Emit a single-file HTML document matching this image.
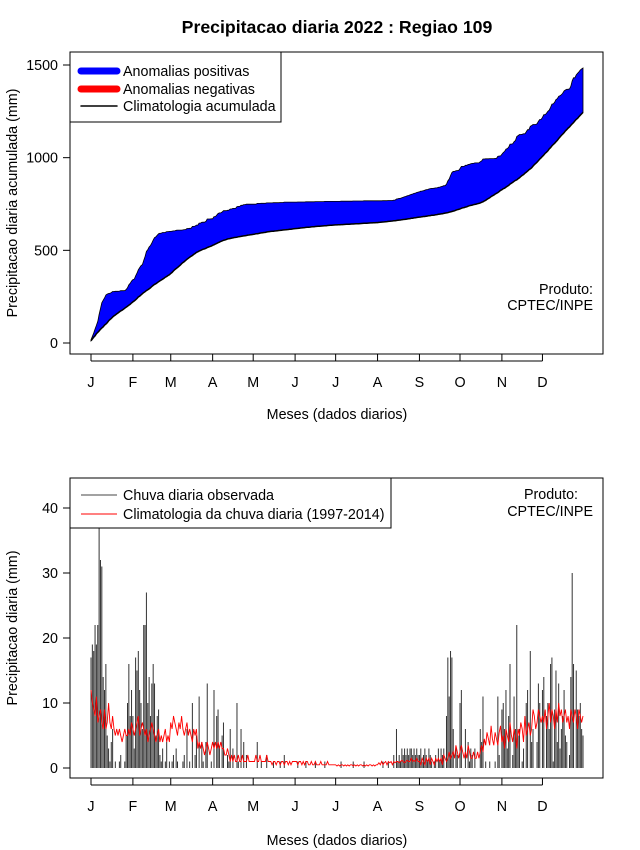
<!DOCTYPE html>
<html><head><meta charset="utf-8">
<style>
body{margin:0;background:#fff;}
svg{display:block;font-family:"Liberation Sans",sans-serif;}
</style></head>
<body>
<svg id="chart" width="640" height="850" viewBox="0 0 640 850"></svg>
<script>
const months = ["J","F","M","A","M","J","J","A","S","O","N","D"];
const monthStartDay = [1,32,60,91,121,152,182,213,244,274,305,335];
const topTicks = [0,500,1000,1500];
const botTicks = [0,10,20,30,40];
const obsDaily = [
17,19,18,22,19,22,37,32,31,14,12,16,5,3,1,4,6,0,1,0,0,1,2,0,0,1,5,10,16,8,12,
8,3,17,15,18,12,10,6,22,22,27,10,14,8,13,16,13,5,8,9,2,1,3,0,1,4,0,1,
0,1,2,0,3,1,0,0,0,1,2,0,6,0,1,0,10,0,2,5,0,11,0,4,1,0,4,13,0,0,1,
0,12,0,8,9,3,0,5,7,0,0,2,1,6,0,3,0,0,10,1,0,6,0,4,0,2,0,0,0,0,
0,0,0,4,0,0,1,0,0,0,2,0,0,0,0,1,0,0,0,0,1,0,0,2,0,0,0,0,0,0,0,
0,0,1,0,0,0,0,0,1,0,0,0,0,0,0,1,0,0,0,0,0,0,1,0,0,0,0,0,0,0,
0,0,0,0,1,0,0,0,0,0,0,0,0,1,0,0,0,0,0,0,0,1,0,0,0,0,0,0,0,0,0,
0,0,0,0,1,0,0,0,1,0,0,0,2,0,6,1,2,1,3,2,3,2,3,2,3,3,2,3,2,3,2,
2,3,1,2,3,2,1,3,2,1,0,1,2,0,3,1,3,2,3,0,8,17,11,18,17,6,0,3,2,0,
10,12,0,0,6,0,4,1,3,2,0,3,0,0,0,6,4,11,0,1,0,0,1,0,0,0,1,0,11,2,0,
9,10,6,12,3,8,16,0,2,11,6,22,5,6,0,1,3,0,10,12,0,18,4,6,0,0,4,13,10,0,
12,14,0,8,10,6,16,17,1,9,15,4,13,3,6,8,12,5,4,0,2,14,30,16,0,15,9,8,10,6,5];
const climDaily = [
12,10,9,8,11,7,8,9,7,6,9,6,7,10,7,6,8,6,5,6,5,6,5,4,5,6,5,5,6,5,7,
6,5,6,7,8,5,6,7,6,5,6,4,5,6,7,6,5,4,5,6,4,5,4,5,6,4,5,4,
7,6,8,7,6,5,7,6,8,6,5,6,7,5,6,5,4,6,5,6,3,4,3,4,3,2,3,4,3,2,3,
4,3,4,3,4,3,4,3,3,2,2,3,2,1,2,1,2,1,1,2,1,1,2,1,1,1,2,1,1,1,
1,1,2,1,1,2,1,1,1,1,2,1,1,1,0.5,1,1,0.5,1,1,0.5,1,1,0.5,1,1,0.5,1,0.5,1,1,
1,1,0.5,1,1,0.5,1,0.5,1,1,0.5,0.5,1,0.5,0.5,1,0.5,0.5,0.5,1,0.5,0.5,0.5,0.5,1,0.5,0.5,0.5,0.5,0.5,
0.5,0.3,0.5,0.3,0.5,0.5,0.3,0.5,0.3,0.5,0.3,0.5,0.5,0.3,0.5,0.3,0.5,0.3,0.5,0.5,0.3,0.5,0.3,0.5,0.3,0.5,0.5,0.3,0.5,0.3,0.5,
0.5,0.8,0.5,1,0.5,0.8,1,0.5,1,0.8,1,0.5,1,0.8,1,1,0.8,1,1.2,1,0.8,1,1.2,1,1,1.5,1,1.2,1,1.5,1,
1,0.5,1.5,1,0.5,1.5,1,1.5,0.5,1.5,1,0.5,1.5,1,1.5,1,1.5,0.5,2,1.5,1,1.5,2.5,1.5,2,2.5,1.5,3.5,2.5,1.5,
2.5,3.5,2.5,1.5,2.5,1.5,3.5,2.5,1.5,1.5,2.5,1.5,1.5,2.5,1.5,2.5,3.5,2.5,4.5,3.5,5.5,4.5,3.5,6.5,4.5,3.5,5.5,4.5,3.5,5.5,6.5,
4,5,3,6,5,4,7,5,4,6,5,3,6,5,7,6,4,8,5,6,7,5,6,9,8,6,7,9,8,7,
8,7,9,6,8,10,7,9,8,6,9,7,10,8,9,7,8,9,7,8,6,9,8,7,9,8,6,9,8,7,8];

const NS="http://www.w3.org/2000/svg";
const svg=document.getElementById('chart');
function mk(tag,attrs,parent,text){const e=document.createElementNS(NS,tag);for(const k in attrs)e.setAttribute(k,attrs[k]);if(text!==undefined)e.textContent=text;(parent||svg).appendChild(e);return e;}
const xDay=d=>91+(d-1)*(583-91)/364;
const yTop=v=>343-v*(343-65)/1500;
const yBot=v=>768-v*6.5;

let t=mk('text',{x:337,y:33,'text-anchor':'middle','font-size':17.7,'font-weight':'bold'},svg,'Precipitacao diaria 2022 : Regiao 109');



function frame(y0,y1,ticks,yf,tickGroupName,ytitle,ytitleName,xlabY,xtitleY,prefix){
  let r=mk('rect',{x:70,y:y0,width:533,height:y1-y0,fill:'none',stroke:'#000','stroke-width':1});
  
  
  ticks.forEach(v=>{
    let y=yf(v);
    mk('line',{x1:63,x2:70,y1:y,y2:y,stroke:'#000'});
    let tx=mk('text',{x:58,y:y+5,'text-anchor':'end','font-size':14.3},svg,String(v));
    
    
  });
  months.forEach((m,i)=>{
    let x=xDay(monthStartDay[i]);
    mk('line',{x1:x,x2:x,y1:y1,y2:y1+7,stroke:'#000'});
    let tx=mk('text',{x:x,y:xlabY,'text-anchor':'middle','font-size':14.3},svg,m);
    
    
  });
  mk('line',{x1:xDay(1),x2:xDay(335),y1:y1+7,y2:y1+7,stroke:'#000'});
  let xt=mk('text',{x:337,y:xtitleY,'text-anchor':'middle','font-size':14.3},svg,'Meses (dados diarios)');
  
  
  let cy=(y0+y1)/2;
  let yt=mk('text',{x:17,y:cy,'text-anchor':'middle','font-size':14.3,transform:`rotate(-90 17 ${cy})`},svg,ytitle);
  
  
}
frame(52,354,topTicks,yTop,'top-y-tick','Precipitacao diaria acumulada (mm)','top-y-axis-title',387,419,'top');
frame(478,778,botTicks,yBot,'bottom-y-tick','Precipitacao diaria (mm)','bottom-y-axis-title',811,845,'bottom');

const cumObs=[],cumClim=[];let a=0,b=0;
for(let i=0;i<obsDaily.length;i++){a+=obsDaily[i];b+=climDaily[i];cumObs.push(a);cumClim.push(b);}
let pts=[];
for(let i=0;i<cumObs.length;i++)pts.push(xDay(i+1).toFixed(1)+','+yTop(Math.max(cumObs[i],cumClim[i])).toFixed(1));
for(let i=cumClim.length-1;i>=0;i--)pts.push(xDay(i+1).toFixed(1)+','+yTop(cumClim[i]).toFixed(1));
let pg=mk('polygon',{points:pts.join(' '),fill:'#0000ff',stroke:'#000','stroke-width':0.8});


let cl=mk('polyline',{points:cumClim.map((v,i)=>xDay(i+1).toFixed(1)+','+yTop(v).toFixed(1)).join(' '),fill:'none',stroke:'#000','stroke-width':1.5});



let lg=mk('g',{});


mk('rect',{x:70,y:52,width:211,height:70,fill:'#fff',stroke:'#000'},lg);
[['#0000ff',7,'Anomalias positivas',71],['#ff0000',7,'Anomalias negativas',89],['#000',1.5,'Climatologia acumulada',106]].forEach(e=>{
  mk('line',{x1:81,x2:117,y1:e[3],y2:e[3],stroke:e[0],'stroke-width':e[1],'stroke-linecap':'round'},lg);
  let tx=mk('text',{x:123,y:e[3]+5,'font-size':14.3},lg,e[2]);
  
  
});
let p1=mk('text',{x:593,y:294,'text-anchor':'end','font-size':14.3},svg,'Produto:');


let p2=mk('text',{x:593,y:310,'text-anchor':'end','font-size':14.3},svg,'CPTEC/INPE');



obsDaily.forEach((v,i)=>{
  if(v<=0)return;
  let x=xDay(i+1);
  let ln=mk('line',{x1:x,x2:x,y1:yBot(0),y2:yBot(v),stroke:'#333','stroke-width':1});
  
  
});
let rl=mk('polyline',{points:climDaily.map((v,i)=>xDay(i+1).toFixed(1)+','+yBot(v).toFixed(1)).join(' '),fill:'none',stroke:'#ff0000','stroke-width':0.9});



let lg2=mk('g',{});


mk('rect',{x:70,y:478,width:321,height:50,fill:'#fff',stroke:'#000'},lg2);
[['#444','Chuva diaria observada',495],['#ff0000','Climatologia da chuva diaria (1997-2014)',514]].forEach(e=>{
  mk('line',{x1:81,x2:117,y1:e[2],y2:e[2],stroke:e[0],'stroke-width':1},lg2);
  let tx=mk('text',{x:123,y:e[2]+5,'font-size':14.3},lg2,e[1]);
  
  
});
let p3=mk('text',{x:578,y:499,'text-anchor':'end','font-size':14.3},svg,'Produto:');


let p4=mk('text',{x:593,y:516,'text-anchor':'end','font-size':14.3},svg,'CPTEC/INPE');


</script>
</body></html>
